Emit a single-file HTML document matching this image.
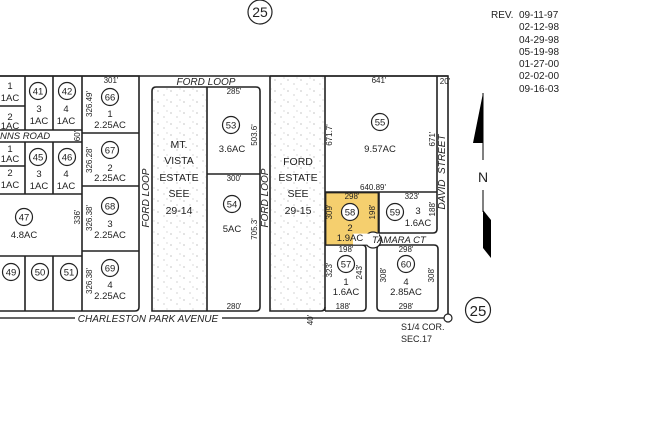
<!DOCTYPE html>
<html><head><meta charset="utf-8"><style>
html,body{margin:0;padding:0;background:#fff;}
svg{display:block;}
text{font-family:"Liberation Sans",Arial,sans-serif;fill:#222;}
.s{font-size:8px;}
.m{font-size:9.5px;}
.r{font-size:10.5px;}
.it{font-style:italic;font-size:10px;}
</style></head><body>
<svg width="650" height="438" viewBox="0 0 650 438" xmlns="http://www.w3.org/2000/svg">
<defs>
<pattern id="dots" width="13" height="11" patternUnits="userSpaceOnUse">
<circle cx="2" cy="3" r="0.55" fill="#777"/><circle cx="8" cy="7" r="0.5" fill="#888"/><circle cx="11" cy="1" r="0.45" fill="#999"/>
</pattern>
</defs>
<g fill="none" stroke="#222" stroke-width="1.6">
<!-- top line -->
<line x1="0" y1="76" x2="448" y2="76"/>
<!-- left block -->
<path d="M0 76 H139 V307 Q139 311 135 311 H0"/>
<line x1="25" y1="76" x2="25" y2="130"/>
<line x1="53" y1="76" x2="53" y2="130"/>
<line x1="82" y1="76" x2="82" y2="311"/>
<line x1="0" y1="106" x2="25" y2="106"/>
<line x1="0" y1="130" x2="82" y2="130"/>
<line x1="0" y1="142" x2="82" y2="142"/>
<line x1="25" y1="142" x2="25" y2="194"/>
<line x1="53" y1="142" x2="53" y2="194"/>
<line x1="0" y1="166" x2="25" y2="166"/>
<line x1="0" y1="194" x2="82" y2="194"/>
<line x1="0" y1="256" x2="82" y2="256"/>
<line x1="25" y1="256" x2="25" y2="311"/>
<line x1="53" y1="256" x2="53" y2="311"/>
<line x1="82" y1="133" x2="139" y2="133"/>
<line x1="82" y1="186" x2="139" y2="186"/>
<line x1="82" y1="251" x2="139" y2="251"/>
<!-- middle block -->
<path d="M156 87 H256 Q260 87 260 91 V307 Q260 311 256 311 H152 V91 Q152 87 156 87 Z"/>
<line x1="207" y1="87" x2="207" y2="311"/>
<line x1="207" y1="174" x2="260" y2="174"/>
<!-- right block -->
<path d="M270 76 H448 V318"/>
<path d="M270 76 V311 H321 Q325 311 325 307"/>
<line x1="325" y1="76" x2="325" y2="311"/>
<line x1="437" y1="76" x2="437" y2="229"/>
<line x1="325" y1="192" x2="437" y2="192"/>
<path d="M379 192 V233 H433 Q437 233 437 229"/>
<path d="M325 245 H362 Q366 245 366 249 V307 Q366 311 362 311 H325"/>
<path d="M381 245 H434 Q438 245 438 249 V307 Q438 311 434 311 H381 Q377 311 377 307 V249 Q377 245 381 245 Z"/>
</g>
<!-- parcel 58 highlight -->
<path d="M325.8 192.8 H378.2 V233 Q368 233 366 245 H325.8 Z" fill="#f5cf6e" stroke="#222" stroke-width="1.2"/>
<circle cx="373" cy="240" r="8" fill="#fff" stroke="#222" stroke-width="1.2"/>
<rect x="353" y="233.6" width="26" height="11" fill="#fff"/>
<!-- stipple -->
<rect x="153" y="88" width="53" height="222" fill="url(#dots)"/>
<rect x="271" y="77" width="53" height="233" fill="url(#dots)"/>
<!-- Charleston -->
<line x1="0" y1="318" x2="75" y2="318" stroke="#333" stroke-width="1.6"/>
<line x1="222" y1="318" x2="444" y2="318" stroke="#333" stroke-width="1.6"/>
<circle cx="448" cy="318" r="4" fill="#fff" stroke="#222" stroke-width="1.2"/>
<text x="148" y="322" class="it" text-anchor="middle">CHARLESTON PARK AVENUE</text>
<!-- circles -->
<g fill="#fff" stroke="#222" stroke-width="1.2">
<circle cx="38" cy="91" r="8.5"/><circle cx="67" cy="91" r="8.5"/><circle cx="110" cy="97" r="8.5"/>
<circle cx="38" cy="157" r="8.5"/><circle cx="67" cy="157" r="8.5"/><circle cx="110" cy="150" r="8.5"/>
<circle cx="24" cy="217" r="8.5"/><circle cx="110" cy="206" r="8.5"/>
<circle cx="11" cy="272" r="8.5"/><circle cx="40" cy="272" r="8.5"/><circle cx="69" cy="272" r="8.5"/><circle cx="110" cy="268" r="8.5"/>
<circle cx="231" cy="125" r="8.5"/><circle cx="232" cy="204" r="8.5"/>
<circle cx="380" cy="122" r="8.5"/><circle cx="350" cy="212" r="8.5"/><circle cx="395" cy="212" r="8.5"/>
<circle cx="346" cy="264" r="8.5"/><circle cx="406" cy="264" r="8.5"/>
<circle cx="260" cy="12" r="12"/><circle cx="478" cy="310" r="12.5"/>
</g>
<g class="m" text-anchor="middle">
<text x="38" y="94.5">41</text><text x="67" y="94.5">42</text><text x="110" y="100.5">66</text>
<text x="38" y="160.5">45</text><text x="67" y="160.5">46</text><text x="110" y="153.5">67</text>
<text x="24" y="220.5">47</text><text x="110" y="209.5">68</text>
<text x="11" y="275.5">49</text><text x="40" y="275.5">50</text><text x="69" y="275.5">51</text><text x="110" y="271.5">69</text>
<text x="231" y="128.5">53</text><text x="232" y="207.5">54</text>
<text x="380" y="125.5">55</text><text x="350" y="215.5">58</text><text x="395" y="215.5">59</text>
<text x="346" y="267.5">57</text><text x="406" y="267.5">60</text>
<!-- lot numbers and acreage -->
<text x="10" y="89">1</text><text x="10" y="101">1AC</text>
<text x="10" y="120">2</text><text x="10" y="129">1AC</text>
<text x="39" y="112">3</text><text x="39" y="124">1AC</text>
<text x="66" y="112">4</text><text x="66" y="124">1AC</text>
<text x="110" y="117">1</text><text x="110" y="128">2.25AC</text>
<text x="10" y="152">1</text><text x="10" y="162">1AC</text>
<text x="10" y="176">2</text><text x="10" y="188">1AC</text>
<text x="39" y="177">3</text><text x="39" y="189">1AC</text>
<text x="66" y="177">4</text><text x="66" y="189">1AC</text>
<text x="110" y="171">2</text><text x="110" y="181">2.25AC</text>
<text x="24" y="238">4.8AC</text>
<text x="110" y="227">3</text><text x="110" y="238">2.25AC</text>
<text x="110" y="288">4</text><text x="110" y="299">2.25AC</text>
<text x="232" y="152">3.6AC</text><text x="232" y="232">5AC</text>
<text x="380" y="152">9.57AC</text>
<text x="350" y="231">2</text><text x="350" y="241">1.9AC</text>
<text x="418" y="214">3</text><text x="418" y="226">1.6AC</text>
<text x="346" y="285">1</text><text x="346" y="295">1.6AC</text>
<text x="406" y="285">4</text><text x="406" y="295">2.85AC</text>
</g>
<g class="r" text-anchor="middle">
<text x="179" y="148">MT.</text><text x="179" y="164">VISTA</text><text x="179" y="181">ESTATE</text><text x="179" y="197">SEE</text><text x="179" y="214">29-14</text>
<text x="298" y="165">FORD</text><text x="298" y="181">ESTATE</text><text x="298" y="197">SEE</text><text x="298" y="214">29-15</text>
</g>
<text x="260" y="17" text-anchor="middle" style="font-size:14px">25</text>
<text x="478" y="316" text-anchor="middle" style="font-size:15px">25</text>
<!-- road labels -->
<text x="206" y="85" class="it" text-anchor="middle">FORD LOOP</text>
<text x="0" y="139" class="it" style="font-size:9.5px">NNS ROAD</text>
<text x="149" y="198" class="it" text-anchor="middle" transform="rotate(-90 149 198)">FORD LOOP</text>
<text x="268" y="198" class="it" text-anchor="middle" transform="rotate(-90 268 198)">FORD LOOP</text>
<text x="445" y="172" class="it" text-anchor="middle" transform="rotate(-90 445 172)">DAVID&#160;&#160;STREET</text>
<text x="372" y="243" class="it" style="font-size:9.5px">TAMARA CT</text>
<!-- dims -->
<g class="s" fill="#333" text-anchor="middle">
<text x="111" y="83">301'</text><text x="234" y="94">285'</text><text x="234" y="181">300'</text><text x="234" y="309">280'</text>
<text x="379" y="83">641'</text><text x="373" y="190">640.89'</text><text x="352" y="199">298'</text><text x="412" y="199">323'</text>
<text x="346" y="252">198'</text><text x="406" y="252">298'</text><text x="343" y="309">188'</text><text x="406" y="309">298'</text>
<text x="445" y="84">20'</text>
<text x="92" y="104" transform="rotate(-90 92 104)">326.49'</text>
<text x="92" y="160" transform="rotate(-90 92 160)">326.28'</text>
<text x="92" y="218" transform="rotate(-90 92 218)">326.38'</text>
<text x="92" y="281" transform="rotate(-90 92 281)">326.38'</text>
<text x="80" y="217" transform="rotate(-90 80 217)">336'</text>
<text x="80" y="136" transform="rotate(-90 80 136)">60'</text>
<text x="257" y="135" transform="rotate(-90 257 135)">503.6'</text>
<text x="257" y="229" transform="rotate(-90 257 229)">705.3'</text>
<text x="332" y="135" transform="rotate(-90 332 135)">671.7'</text>
<text x="435" y="139" transform="rotate(-90 435 139)">671'</text>
<text x="332" y="212" transform="rotate(-90 332 212)">309'</text>
<text x="375" y="212" transform="rotate(-90 375 212)">198'</text>
<text x="435" y="209" transform="rotate(-90 435 209)">188'</text>
<text x="332" y="270" transform="rotate(-90 332 270)">323'</text>
<text x="362" y="272" transform="rotate(-90 362 272)">243'</text>
<text x="386" y="275" transform="rotate(-90 386 275)">308'</text>
<text x="434" y="275" transform="rotate(-90 434 275)">308'</text>
<text x="313" y="320" transform="rotate(-90 313 320)">40'</text>
</g>
<text x="401" y="330" style="font-size:9px">S1/4 COR.</text>
<text x="401" y="342" style="font-size:9px">SEC.17</text>
<!-- north arrow -->
<polygon points="483,93 473,143 483,143" fill="#000"/>
<line x1="483" y1="93" x2="483" y2="160" stroke="#000" stroke-width="1"/>
<text x="483" y="182" text-anchor="middle" style="font-size:14px">N</text>
<line x1="483" y1="190" x2="483" y2="212" stroke="#000" stroke-width="1"/>
<polygon points="483,210 491,220 491,258 483,248" fill="#000"/>
<!-- rev -->
<g style="font-size:10px">
<text x="491" y="18">REV.</text>
<text x="519" y="18">09-11-97</text><text x="519" y="30">02-12-98</text><text x="519" y="43">04-29-98</text>
<text x="519" y="55">05-19-98</text><text x="519" y="67">01-27-00</text><text x="519" y="79">02-02-00</text><text x="519" y="92">09-16-03</text>
</g>
</svg>
</body></html>
